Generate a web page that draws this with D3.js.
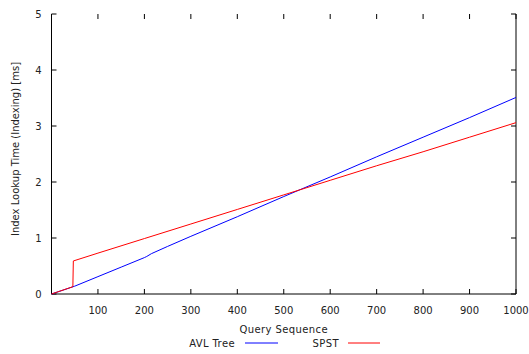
<!DOCTYPE html>
<html><head><meta charset="utf-8">
<script src="https://cdn.jsdelivr.net/npm/d3@7"></script>
<style>body{margin:0;background:#fff}svg{display:block}text{font-family:"DejaVu Sans",sans-serif;fill:#222}</style>
</head><body><svg id="c" width="529" height="354"></svg>
<script>
const avlX = [0, 50, 100, 150, 200, 205, 215, 250, 300, 400, 500, 600, 700, 800, 900, 1000];
const avlY = [0, 0.14, 0.31, 0.48, 0.65, 0.67, 0.72, 0.85, 1.03, 1.38, 1.74, 2.09, 2.45, 2.80, 3.15, 3.51];
const spstX = [0, 46, 47, 100, 200, 300, 400, 500, 600, 700, 800, 900, 1000];
const spstY = [0, 0.13, 0.59, 0.73, 0.99, 1.25, 1.51, 1.77, 2.03, 2.29, 2.54, 2.80, 3.06];
const xTicks = [100, 200, 300, 400, 500, 600, 700, 800, 900, 1000];
const yTicks = [0, 1, 2, 3, 4, 5];
const seriesNames = ["AVL Tree", "SPST"];
const colors = ["#0000ff", "#ff0000"];

const svg = d3.select("#c");
const L = 51.5, R = 516, T = 14, B = 294;
const x = d3.scaleLinear().domain([0, 1000]).range([L, R]);
const y = d3.scaleLinear().domain([0, 5]).range([B, T]);

const g = svg.append("g");
g.append("path").attr("d", `M${L},${T}V${B}H${R}V${T}`).attr("fill","none").attr("stroke","#000").attr("stroke-width",1);
xTicks.forEach(v => {
  g.append("line").attr("x1",x(v)).attr("x2",x(v)).attr("y1",B).attr("y2",B-5).attr("stroke","#000");
  g.append("line").attr("x1",x(v)).attr("x2",x(v)).attr("y1",T).attr("y2",T+5).attr("stroke","#000");
  g.append("text").attr("x",x(v)).attr("y",B+20).attr("text-anchor","middle").attr("font-size",10).text(v);
});
yTicks.forEach(v => {
  g.append("line").attr("x1",L).attr("x2",L+5).attr("y1",y(v)).attr("y2",y(v)).attr("stroke","#000");
  g.append("line").attr("x1",R).attr("x2",R-5).attr("y1",y(v)).attr("y2",y(v)).attr("stroke","#000");
  g.append("text").attr("x",L-10).attr("y",y(v)+4).attr("text-anchor","end").attr("font-size",10).text(v);
});

const line = d3.line().x(d=>x(d[0])).y(d=>y(d[1]));
const series = [d3.zip(avlX, avlY), d3.zip(spstX, spstY)];
series.forEach((s,i) => {
  g.append("path").datum(s).attr("d", line).attr("fill","none").attr("stroke",colors[i]).attr("stroke-width",1);
});

g.append("text").attr("x",(L+R)/2).attr("y",333).attr("text-anchor","middle").attr("font-size",10).attr("letter-spacing","0.4px").text("Query Sequence");
g.append("text").attr("transform",`translate(19,149) rotate(-90)`).attr("text-anchor","middle").attr("font-size",10).text("Index Lookup Time (Indexing) [ms]");

const leg = [{tx:235, lx1:245, lx2:278},{tx:339, lx1:348, lx2:380}];
leg.forEach((l,i) => {
  g.append("text").attr("x",l.tx).attr("y",347).attr("text-anchor","end").attr("font-size",10).attr("letter-spacing","0.4px").text(seriesNames[i]);
  g.append("line").attr("x1",l.lx1).attr("x2",l.lx2).attr("y1",343).attr("y2",343).attr("stroke",colors[i]).attr("stroke-width",1);
});
</script></body></html>
